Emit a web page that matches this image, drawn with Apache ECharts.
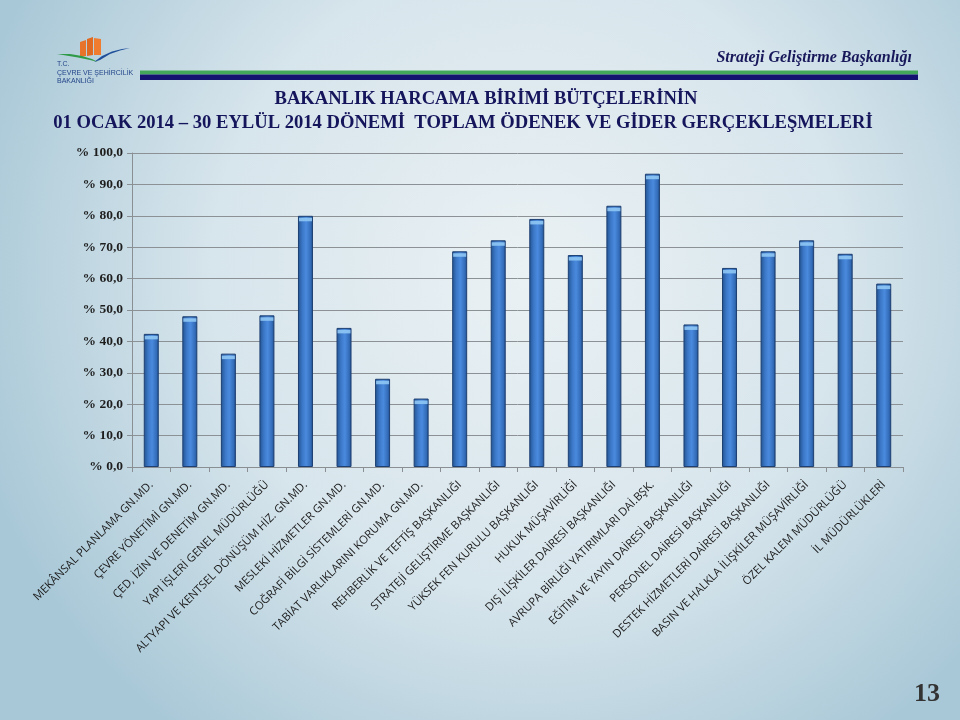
<!DOCTYPE html>
<html>
<head>
<meta charset="utf-8">
<script src="https://cdn.jsdelivr.net/npm/echarts@6/dist/echarts.min.js"></script>
<style>
html,body{margin:0;padding:0;width:960px;height:720px;overflow:hidden;}
#c{width:960px;height:720px;}
</style>
</head>
<body>
<div id="c"></div>
<script>
var categories = [
  'MEKÂNSAL PLANLAMA GN.MD.',
  'ÇEVRE YÖNETİMİ GN.MD.',
  'ÇED, İZİN VE DENETİM GN.MD.',
  'YAPI İŞLERİ GENEL MÜDÜRLÜĞÜ',
  'ALTYAPI VE KENTSEL DÖNÜŞÜM HİZ. GN.MD.',
  'MESLEKİ HİZMETLER GN.MD.',
  'COĞRAFİ BİLGİ SİSTEMLERİ GN.MD.',
  'TABİAT VARLIKLARINI KORUMA GN.MD.',
  'REHBERLİK VE TEFTİŞ BAŞKANLIĞI',
  'STRATEJİ GELİŞTİRME BAŞKANLIĞI',
  'YÜKSEK FEN KURULU BAŞKANLIĞI',
  'HUKUK MÜŞAVİRLİĞİ',
  'DIŞ İLİŞKİLER DAİRESİ BAŞKANLIĞI',
  'AVRUPA BİRLİĞİ YATIRIMLARI DAİ.BŞK.',
  'EĞİTİM VE YAYIN DAİRESİ BAŞKANLIĞI',
  'PERSONEL DAİRESİ BAŞKANLIĞI',
  'DESTEK HİZMETLERİ DAİRESİ BAŞKANLIĞI',
  'BASIN VE HALKLA İLİŞKİLER MÜŞAVİRLİĞİ',
  'ÖZEL KALEM MÜDÜRLÜĞÜ',
  'İL MÜDÜRLÜKLERİ'
];
var realizationPct = [42.4, 48.0, 36.1, 48.3, 80.0, 44.3, 28.1, 21.8, 68.7, 72.2,
                      79.0, 67.5, 83.2, 93.4, 45.4, 63.4, 68.7, 72.2, 67.9, 58.4];
var yTickValues = [0, 10, 20, 30, 40, 50, 60, 70, 80, 90, 100];
var yTickLabels = ['% 0,0', '% 10,0', '% 20,0', '% 30,0', '% 40,0', '% 50,0',
                   '% 60,0', '% 70,0', '% 80,0', '% 90,0', '% 100,0'];
var titleLine1 = 'BAKANLIK HARCAMA BİRİMİ BÜTÇELERİNİN';
var titleLine2 = '01 OCAK 2014 – 30 EYLÜL 2014 DÖNEMİ  TOPLAM ÖDENEK VE GİDER GERÇEKLEŞMELERİ';
var headerText = 'Strateji Geliştirme Başkanlığı';
var logoLines = ['T.C.', 'ÇEVRE VE ŞEHİRCİLİK', 'BAKANLIĞI'];
var pageNumber = '13';

var chart = echarts.init(document.getElementById('c'), null, {renderer: 'canvas'});

var serif = '"Liberation Serif", "Times New Roman", serif';

var option = {
  backgroundColor: {
    type: 'radial', x: 0.55, y: 0.38, r: 0.8,
    colorStops: [
      {offset: 0, color: '#eaf1f4'},
      {offset: 0.55, color: '#d7e5ec'},
      {offset: 1, color: '#a9c8d7'}
    ]
  },
  animation: false,
  title: [
    {text: titleLine1, left: 481, top: 85, textAlign: 'center',
     textStyle: {fontFamily: serif, fontSize: 18.6, fontWeight: 'bold', color: '#15155c'}},
    {text: titleLine2, left: 458, top: 109, textAlign: 'center',
     textStyle: {fontFamily: serif, fontSize: 18.6, fontWeight: 'bold', color: '#15155c'}}
  ],
  grid: {left: 132, right: 57, top: 153, bottom: 253, containLabel: false},
  xAxis: {
    type: 'category',
    data: categories,
    boundaryGap: true,
    axisLine: {show: true, lineStyle: {color: '#8a8f94', width: 1}},
    axisTick: {show: true, length: 5, alignWithLabel: false, lineStyle: {color: '#8a8f94'}},
    axisLabel: {
      interval: 0, rotate: 45, margin: 16,
      fontFamily: '"Open Sans", "Noto Sans", sans-serif', fontSize: 11.3, color: '#1c1c1c'
    }
  },
  yAxis: {
    type: 'value', min: 0, max: 100, interval: 10,
    axisLine: {show: true, lineStyle: {color: '#8a8f94', width: 1}},
    axisTick: {show: true, length: 5, inside: false, lineStyle: {color: '#8a8f94'}},
    splitLine: {show: true, lineStyle: {color: '#8c9196', width: 1}},
    axisLabel: {
      margin: 9,
      fontFamily: serif, fontSize: 13.5, fontWeight: 'bold', color: '#1e1e1e',
      formatter: function (v) {
        var i = yTickValues.indexOf(v);
        return i >= 0 ? yTickLabels[i] : '';
      }
    }
  },
  series: [
    {
      type: 'bar',
      data: realizationPct,
      barWidth: 15,
      itemStyle: {
        borderColor: '#1d3f72', borderWidth: 1,
        color: {
          type: 'linear', x: 0, y: 0, x2: 1, y2: 0,
          colorStops: [
            {offset: 0, color: '#22538f'},
            {offset: 0.3, color: '#3c78c8'},
            {offset: 0.55, color: '#4a8ade'},
            {offset: 0.85, color: '#336cb8'},
            {offset: 1, color: '#1f4a86'}
          ]
        }
      },
      z: 2
    },
    {
      type: 'pictorialBar',
      data: realizationPct,
      symbol: 'rect',
      symbolSize: [13, 3.5],
      symbolPosition: 'end',
      symbolOffset: [0, 2],
      itemStyle: {color: '#8ec6f4', opacity: 0.9},
      silent: true,
      z: 3
    }
  ],
  graphic: [
    {type: 'rect', shape: {x: 140, y: 70.5, width: 778, height: 4}, style: {fill: '#43a85a'}, silent: true},
    {type: 'rect', shape: {x: 140, y: 74.5, width: 778, height: 5.5}, style: {fill: '#141470'}, silent: true},
    {type: 'text', x: 912, y: 58, style: {text: headerText, textAlign: 'right', textVerticalAlign: 'middle',
      font: 'italic bold 16px ' + serif, fill: '#17175a'}, silent: true},
    {type: 'polygon', shape: {points: [[80,42],[86,40],[86,56],[80,57]]}, style: {fill: '#e8732a'}, silent: true},
    {type: 'polygon', shape: {points: [[87,39],[93,37],[93,55],[87,56]]}, style: {fill: '#e06a22'}, silent: true},
    {type: 'polygon', shape: {points: [[94,38],[101,39],[101,55],[94,55]]}, style: {fill: '#f07c30'}, silent: true},
    {type: 'polygon', shape: {points: [[57,54],[70,54],[82,56],[92,59],[98,62],[90,60],[78,57.5],[66,55.5]]},
      style: {fill: '#2f9a47'}, silent: true},
    {type: 'polygon', shape: {points: [[94,62],[102,56],[112,51.5],[122,49],[130,48],[120,50.5],[110,54],[100,60]]},
      style: {fill: '#1f4f9a'}, silent: true},
    {type: 'text', x: 57, y: 60, style: {text: logoLines.join('\n'), font: '7px "Liberation Sans", sans-serif',
      fill: '#24468a', lineHeight: 8.5}, silent: true},
    {type: 'text', x: 927, y: 694, style: {text: pageNumber, textAlign: 'center', textVerticalAlign: 'middle',
      font: 'bold 26px ' + serif, fill: '#333333'}, silent: true}
  ]
};
chart.setOption(option);
</script>
</body>
</html>
